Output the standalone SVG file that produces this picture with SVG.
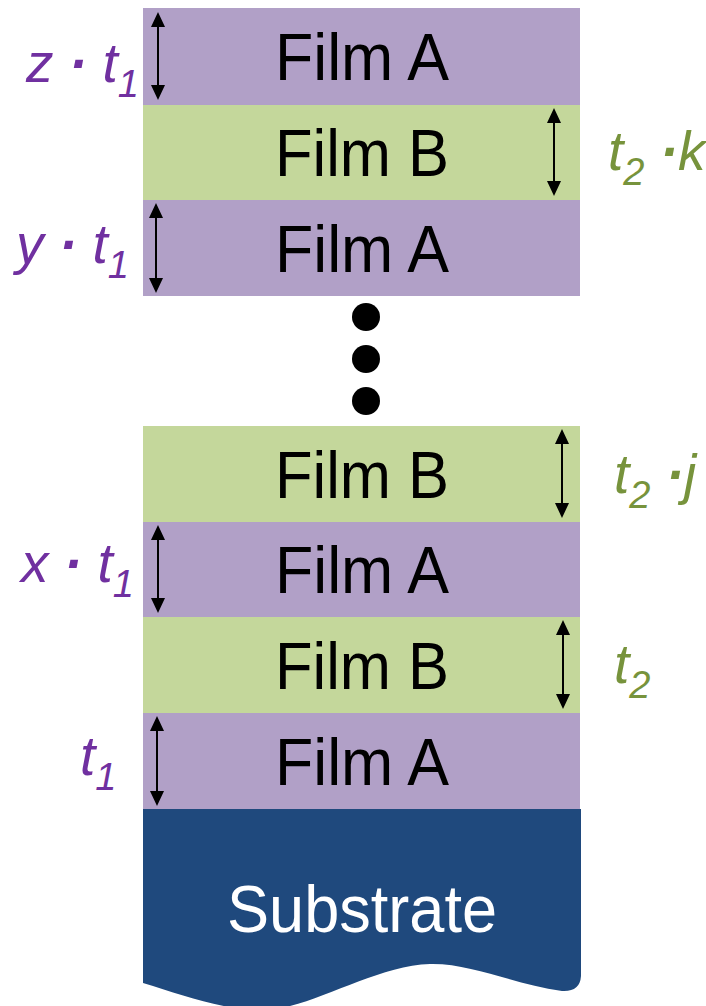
<svg xmlns="http://www.w3.org/2000/svg" width="706" height="1006" viewBox="0 0 706 1006">
<defs>
<style>
.fa{fill:#B1A0C7}
.fb{fill:#C4D79B}
.film{font-family:"Liberation Sans",Arial,sans-serif;font-size:66px;fill:#000;text-anchor:middle}
.lab{font-family:"Liberation Sans",Arial,sans-serif;font-size:55px;font-style:italic}
.pu{fill:#7030A0}
.gr{fill:#77933C}
.sub{font-size:38px}
.dot{font-weight:bold}
.arr{stroke:#000;stroke-width:2;fill:none;marker-start:url(#ah);marker-end:url(#ah)}
</style>
<marker id="ah" viewBox="0 0 15 14" refX="13" refY="7" markerWidth="15" markerHeight="14" markerUnits="userSpaceOnUse" orient="auto-start-reverse">
<path d="M0,0 L15,7 L0,14 Z" fill="#000"/>
</marker>
</defs>
<rect width="706" height="1006" fill="#fff"/>

<g id="layer-a1"><rect class="fa" x="143" y="8" width="437" height="97"/><text class="film" x="362" y="80" textLength="174" lengthAdjust="spacingAndGlyphs">Film A</text></g>
<g id="layer-b1"><rect class="fb" x="143" y="105" width="437" height="95"/><text class="film" x="362" y="176" textLength="174" lengthAdjust="spacingAndGlyphs">Film B</text></g>
<g id="layer-a2"><rect class="fa" x="143" y="200" width="437" height="96"/><text class="film" x="362" y="272" textLength="174" lengthAdjust="spacingAndGlyphs">Film A</text></g>

<g id="ellipsis">
<circle cx="366" cy="317" r="14" fill="#000"/>
<circle cx="366" cy="359" r="14" fill="#000"/>
<circle cx="366" cy="401" r="14" fill="#000"/>
</g>

<g id="layer-b2"><rect class="fb" x="143" y="426" width="437" height="96"/><text class="film" x="362" y="498" textLength="174" lengthAdjust="spacingAndGlyphs">Film B</text></g>
<g id="layer-a3"><rect class="fa" x="143" y="522" width="437" height="95"/><text class="film" x="362" y="593" textLength="174" lengthAdjust="spacingAndGlyphs">Film A</text></g>
<g id="layer-b3"><rect class="fb" x="143" y="617" width="437" height="96"/><text class="film" x="362" y="689" textLength="174" lengthAdjust="spacingAndGlyphs">Film B</text></g>
<g id="layer-a4"><rect class="fa" x="143" y="713" width="437" height="96"/><text class="film" x="362" y="785" textLength="174" lengthAdjust="spacingAndGlyphs">Film A</text></g>

<g id="substrate">
<path d="M143,809 L581,809 L581,976 Q580,992 562,991 C515,985 472,963 430,964 C372,966 310,1010 262,1010 C222,1010 182,995 143,983 Z" fill="#1F497D"/>
<text class="film" x="362" y="932" textLength="270" lengthAdjust="spacingAndGlyphs" style="fill:#fff">Substrate</text>
</g>

<g id="connectors">
<line class="arr" x1="158" y1="14" x2="158" y2="98"/>
<line class="arr" x1="554" y1="110" x2="554" y2="194"/>
<line class="arr" x1="156" y1="205" x2="156" y2="291"/>
<line class="arr" x1="562" y1="431" x2="562" y2="516"/>
<line class="arr" x1="158" y1="527" x2="158" y2="611"/>
<line class="arr" x1="563" y1="622" x2="563" y2="707"/>
<line class="arr" x1="157" y1="718" x2="157" y2="804"/>
</g>

<g id="labels">
<text class="lab pu" x="26" y="82">z <tspan class="dot">·</tspan> t<tspan class="sub" dy="15">1</tspan></text>
<text class="lab pu" x="16" y="263">y <tspan class="dot">·</tspan> t<tspan class="sub" dy="15">1</tspan></text>
<text class="lab pu" x="21" y="582">x <tspan class="dot">·</tspan> t<tspan class="sub" dy="15">1</tspan></text>
<text class="lab pu" x="80" y="775">t<tspan class="sub" dy="15">1</tspan></text>
<text class="lab gr" x="608" y="170">t<tspan class="sub" dy="15">2</tspan><tspan dy="-15"> <tspan class="dot">·</tspan>k</tspan></text>
<text class="lab gr" x="614" y="493">t<tspan class="sub" dy="15">2</tspan><tspan dy="-15"> <tspan class="dot">·</tspan>j</tspan></text>
<text class="lab gr" x="614" y="683">t<tspan class="sub" dy="15">2</tspan></text>
</g>
</svg>
